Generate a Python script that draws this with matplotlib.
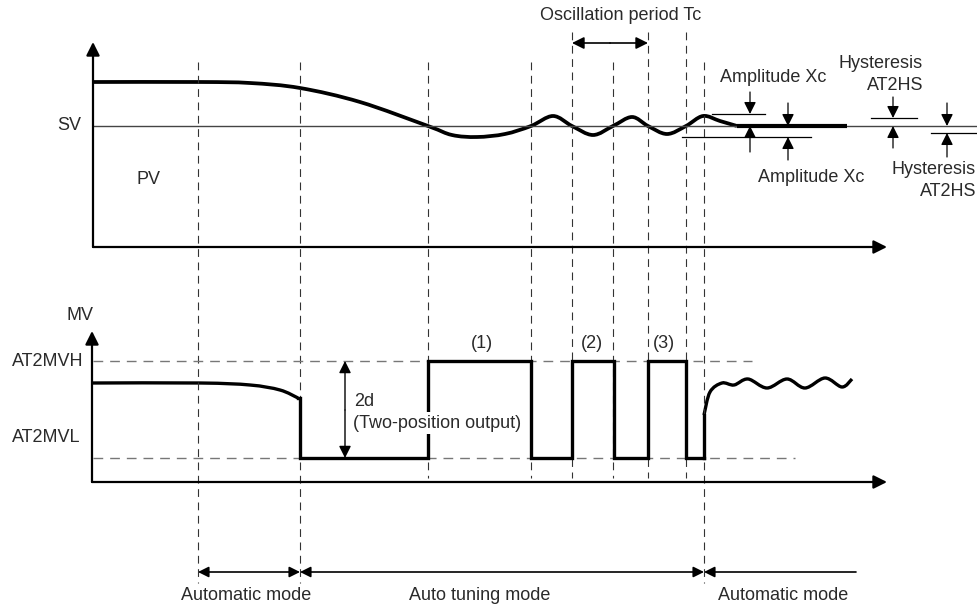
# Auto tuning timing diagram (PV / MV vs time)
import numpy as np
import matplotlib
matplotlib.use("Agg")
import matplotlib.pyplot as plt
from matplotlib.path import Path
from matplotlib.patches import PathPatch

plt.rcParams['font.family'] = ['Liberation Sans', 'DejaVu Sans']

# drawing units are pixels of the 977x610 canvas, y grows downward
SV = 126
MVH, MVL = 361, 458

# PV curve knots (time, value)
pv_x = [93, 200, 250, 300, 360, 428, 452, 477, 505, 531, 553, 572, 593, 613, 632, 648, 667, 686, 703, 720, 737]
pv_y = [82, 82, 83, 88, 102, 126, 135, 137, 134, 126, 116, 126, 135, 126, 117, 126, 134, 126, 116, 121, 126]
pv_settled_end = 847

# MV: automatic part, two-position output, then automatic again
mv_head_x = [93, 200, 250, 280, 298]
mv_head_y = [383, 383, 385, 390, 398]
mv_switch_x = [300, 428, 531, 572, 614, 648, 686, 704]
mv_switch_lv = [MVL, MVH, MVL, MVH, MVL, MVH, MVL]
mv_tail_x = [704, 704, 710, 722, 734, 748, 767, 787, 805, 825, 842, 852]
mv_tail_y = [458, 415, 392, 383, 385, 379, 388, 379, 388, 378, 387, 379]

# dashed time markers
mark_x = [198, 300, 428, 531, 572, 613, 648, 686, 704]
mark_top = [62, 62, 62, 62, 32, 62, 32, 32, 62]
mark_bot = [583, 583, 478, 478, 478, 478, 478, 478, 583]

pulse_labels = ['(1)', '(2)', '(3)']
pulse_x = [482, 592, 664]

modes = ['Automatic mode', 'Auto tuning mode', 'Automatic mode']
mode_edges = [198, 300, 704, 856]


def smooth(xs, ys):
    # Catmull-Rom through the knots, drawn as cubic bezier segments
    p = np.column_stack([xs, ys]).astype(float)
    verts = [p[0]]
    codes = [Path.MOVETO]
    n = len(p)
    for i in range(n - 1):
        p0 = p[i - 1] if i > 0 else p[i]
        p3 = p[i + 2] if i + 2 < n else p[i + 1]
        c1 = p[i] + (p[i + 1] - p0) / 6
        c2 = p[i + 1] - (p3 - p[i]) / 6
        verts += [c1, c2, p[i + 1]]
        codes += [Path.CURVE4] * 3
    return Path(verts, codes)


def arrow(ax, x0, y0, x1, y1, lw=1.2, ms=18, style='-|>'):
    ax.annotate('', xy=(x1, y1), xytext=(x0, y0),
                arrowprops=dict(arrowstyle=style, lw=lw, color='black',
                                mutation_scale=ms, shrinkA=0, shrinkB=0))


fig = plt.figure(figsize=(9.77, 6.10), dpi=100)
ax = fig.add_axes([0, 0, 1, 1])
ax.set_xlim(0, 977)
ax.set_ylim(610, 0)
ax.axis('off')

txt = dict(fontsize=13, color='#2a2a2a')

# time markers
for x, t, b in zip(mark_x, mark_top, mark_bot):
    ax.plot([x, x], [t, b], color='#333333', lw=0.8, dashes=(7, 5))

# axes
arrow(ax, 93, 247, 887, 247, lw=1.6, ms=20)
arrow(ax, 93, 247, 93, 42, lw=1.6, ms=20)
arrow(ax, 92, 482, 887, 482, lw=1.6, ms=20)
arrow(ax, 92, 482, 92, 331, lw=1.6, ms=20)

# SV line
ax.plot([93, 977], [SV, SV], color='#444444', lw=1.0)

# PV
ax.add_patch(PathPatch(smooth(pv_x, pv_y), fill=False, lw=2.7, ec='black', capstyle='butt'))
ax.plot([pv_x[-1], pv_settled_end], [SV, SV], color='black', lw=3.0, solid_capstyle='butt')

# MV levels
ax.plot([93, 752], [MVH, MVH], color='#777777', lw=1.0, dashes=(7, 5))
ax.plot([93, 795], [MVL, MVL], color='#777777', lw=1.0, dashes=(7, 5))

ax.add_patch(PathPatch(smooth(mv_head_x, mv_head_y), fill=False, lw=2.4, ec='black'))
sx, sy = [mv_head_x[-1]], [mv_head_y[-1]]
for i, lv in enumerate(mv_switch_lv):
    sx += [mv_switch_x[i], mv_switch_x[i], mv_switch_x[i + 1]]
    sy += [sy[-1], lv, lv]
ax.plot(sx, sy, color='black', lw=2.4, solid_joinstyle='miter')
ax.plot(mv_tail_x[:2], mv_tail_y[:2], color='black', lw=2.4)
ax.add_patch(PathPatch(smooth(mv_tail_x[1:], mv_tail_y[1:]), fill=False, lw=2.4, ec='black'))

# 2d
arrow(ax, 345, 410, 345, MVH, lw=1.0, ms=18)
arrow(ax, 345, 410, 345, MVL, lw=1.0, ms=18)
ax.text(354, 402, '2d', ha='left', va='center', **txt)
ax.text(353, 423, '(Two-position output)', ha='left', va='center', zorder=5,
        bbox=dict(fc='white', ec='none', pad=1.5), **txt)

for lab, x in zip(pulse_labels, pulse_x):
    ax.text(x, 344, lab, ha='center', va='center', **txt)

# labels at the axes
ax.text(81, 126, 'SV', ha='right', va='center', **txt)
ax.text(148, 179, 'PV', ha='center', va='center', **txt)
ax.text(80, 315, 'MV', ha='center', va='center', **txt)
ax.text(83, 361, 'AT2MVH', ha='right', va='center', **txt)
ax.text(80, 437, 'AT2MVL', ha='right', va='center', **txt)

# oscillation period
ax.text(621, 15, 'Oscillation period Tc', ha='center', va='center', **txt)
arrow(ax, 610, 43, 572, 43, lw=1.2, ms=18)
arrow(ax, 610, 43, 648, 43, lw=1.2, ms=18)

# amplitude Xc
ax.plot([712, 765], [114, 114], color='black', lw=0.9)
ax.plot([682, 811], [137, 137], color='black', lw=0.9)
arrow(ax, 750, 92, 750, 114, lw=0.9)
arrow(ax, 750, 152, 750, SV, lw=0.9)
arrow(ax, 788, 103, 788, SV, lw=0.9)
arrow(ax, 788, 160, 788, 137, lw=0.9)
ax.text(773, 77, 'Amplitude Xc', ha='center', va='center', **txt)
ax.text(811, 178, 'Amplitude Xc', ha='center', va='center', **txt)

# hysteresis AT2HS
ax.plot([871, 917], [118, 118], color='black', lw=0.9)
ax.plot([931, 977], [133, 133], color='black', lw=0.9)
arrow(ax, 893, 97, 893, 118, lw=0.9)
arrow(ax, 893, 148, 893, SV, lw=0.9)
arrow(ax, 947, 103, 947, SV, lw=0.9)
arrow(ax, 947, 157, 947, 133, lw=0.9)
ax.text(923, 63, 'Hysteresis', ha='right', va='center', **txt)
ax.text(923, 86, 'AT2HS', ha='right', va='center', **txt)
ax.text(976, 170, 'Hysteresis', ha='right', va='center', **txt)
ax.text(976, 192, 'AT2HS', ha='right', va='center', **txt)

# modes
for i, lab in enumerate(modes):
    a, b = mode_edges[i], mode_edges[i + 1]
    style = '<|-|>' if i < 2 else '<|-'
    arrow(ax, a, 572, b, 572, lw=1.2, ms=16, style=style)
label_cx = [246, 480, 783]
for lab, cx in zip(modes, label_cx):
    ax.text(cx, 596, lab, ha='center', va='center', **txt)

fig.savefig('out.png', dpi=100)
